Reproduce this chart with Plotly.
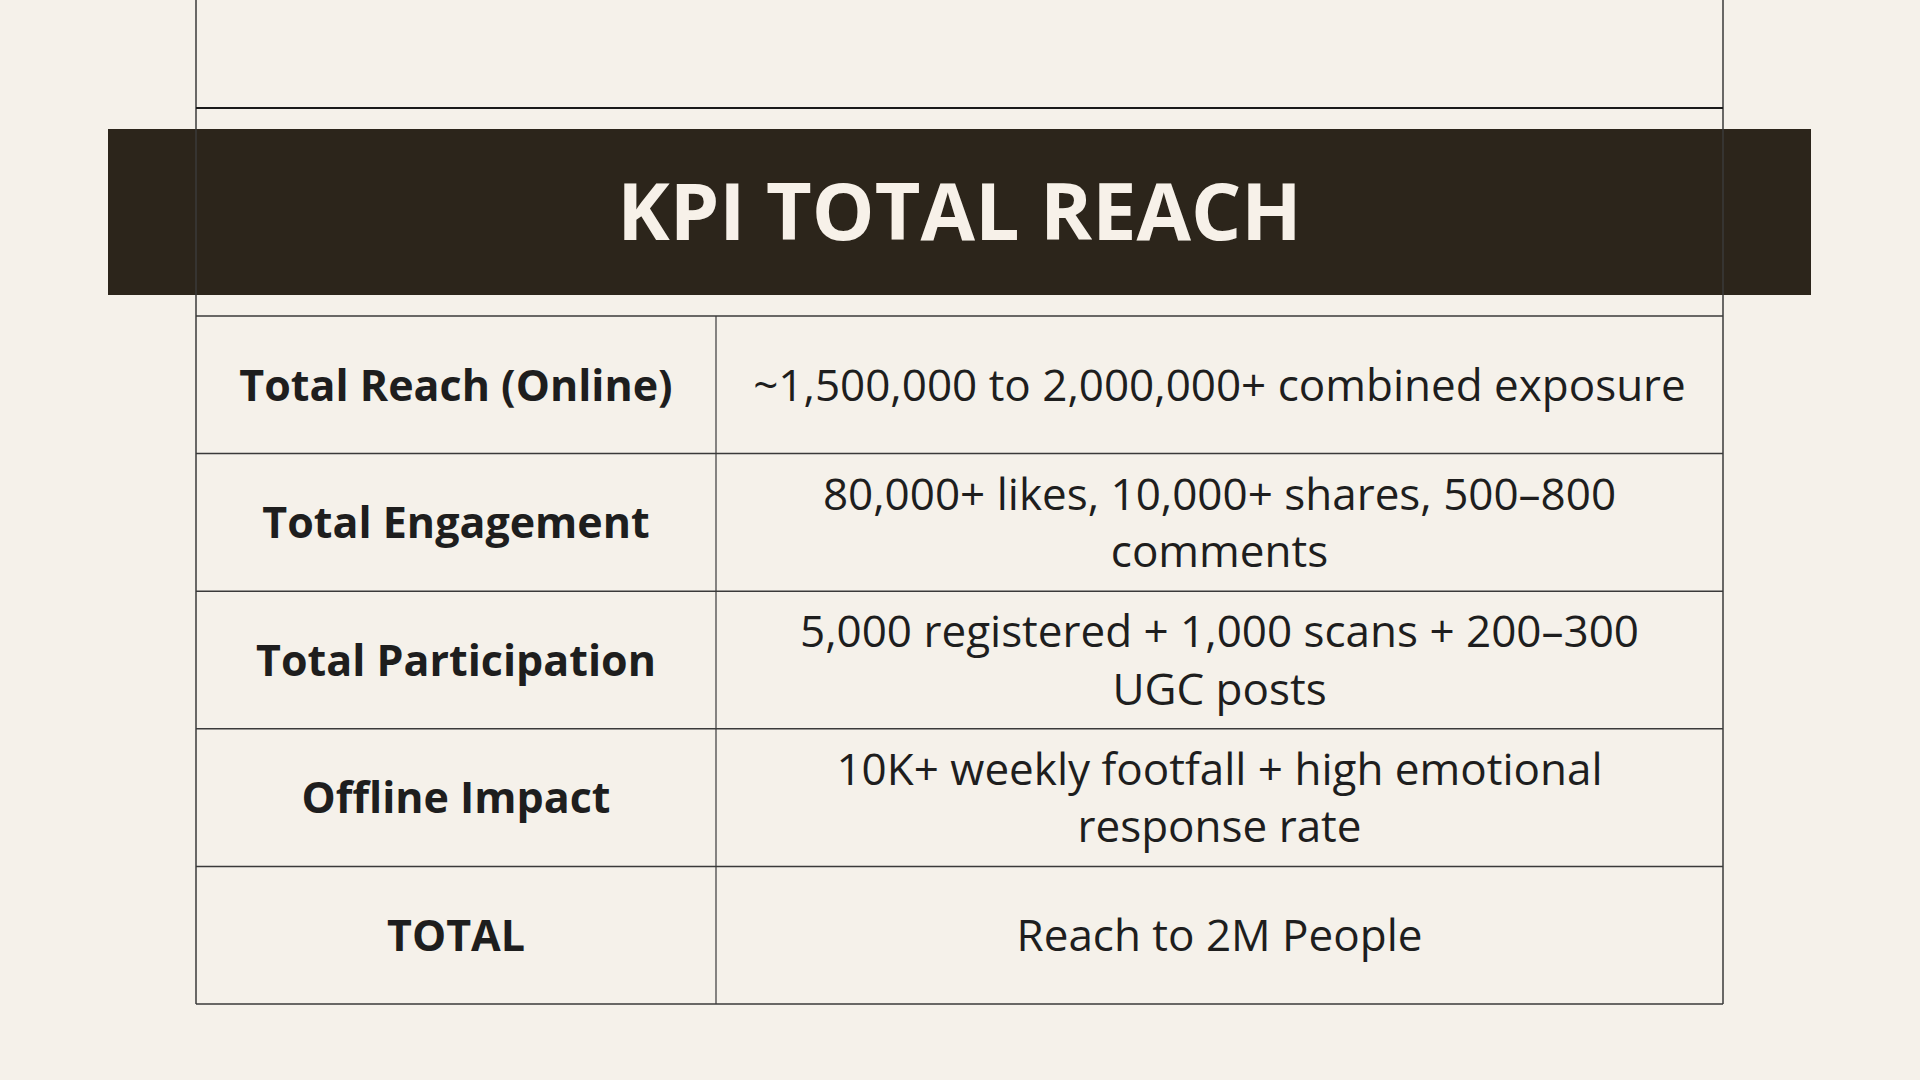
import plotly.graph_objects as go

# KPI table contents
title_text = "KPI TOTAL REACH"
metrics = [
    "Total Reach (Online)",
    "Total Engagement",
    "Total Participation",
    "Offline Impact",
    "TOTAL",
]
values = [
    "~1,500,000 to 2,000,000+ combined exposure",
    "80,000+ likes, 10,000+ shares, 500–800\ncomments",
    "5,000 registered + 1,000 scans + 200–300\nUGC posts",
    "10K+ weekly footfall + high emotional\nresponse rate",
    "Reach to 2M People",
]

# colours
BG = "#F5F1EA"
BANNER = "#2C251B"
INK = "#1E1E1E"
LINE = "#3A3A3A"

# layout geometry (pixels)
W, H = 1920, 1080
x_left, x_mid, x_right = 196, 716, 1723
frame_top = 108
body_top = 316
row_h = 137.6
banner = dict(x0=108, x1=1811, y0=129, y1=295)
text_nudge = 5  # Open Sans sits a little high compared with the original face

fig = go.Figure()

n = len(metrics)
row_edges = [body_top + i * row_h for i in range(n + 1)]
row_centers = [body_top + (i + 0.5) * row_h + text_nudge for i in range(n)]

shapes = []
# banner behind everything
shapes.append(dict(type="rect", xref="x", yref="y", layer="below",
                   x0=banner["x0"], x1=banner["x1"], y0=banner["y0"], y1=banner["y1"],
                   fillcolor=BANNER, line=dict(width=0)))
# outer vertical borders run off the top of the page
for xv in (x_left, x_right):
    shapes.append(dict(type="line", xref="x", yref="y", x0=xv, x1=xv, y0=0, y1=row_edges[-1],
                       line=dict(color=LINE, width=1.5)))
# top border of header section
shapes.append(dict(type="line", xref="x", yref="y", x0=x_left, x1=x_right,
                   y0=frame_top, y1=frame_top, line=dict(color="#1A1A1A", width=2)))
# row borders
for yv in row_edges:
    shapes.append(dict(type="line", xref="x", yref="y", x0=x_left, x1=x_right,
                       y0=yv, y1=yv, line=dict(color=LINE, width=1.5)))
# column divider
shapes.append(dict(type="line", xref="x", yref="y", x0=x_mid, x1=x_mid,
                   y0=body_top, y1=row_edges[-1], line=dict(color=LINE, width=1.2)))

# title on the banner
fig.add_trace(go.Scatter(
    x=[(banner["x0"] + banner["x1"]) / 2], y=[(banner["y0"] + banner["y1"]) / 2 + 8],
    mode="text", text=[title_text], textposition="middle center",
    textfont=dict(family="Open Sans", size=79, color="#F7F1E9", weight=700),
    hoverinfo="skip", showlegend=False,
))

# left column: metric names
fig.add_trace(go.Scatter(
    x=[(x_left + x_mid) / 2] * n, y=row_centers,
    mode="text", text=metrics, textposition="middle center",
    textfont=dict(family="Open Sans", size=43, color=INK, weight=700),
    hoverinfo="skip", showlegend=False,
))

# right column: values
fig.add_trace(go.Scatter(
    x=[(x_mid + x_right) / 2] * n, y=row_centers,
    mode="text", text=[v.replace("\n", "<br>") for v in values], textposition="middle center",
    textfont=dict(family="Open Sans", size=44, color=INK),
    hoverinfo="skip", showlegend=False,
))

fig.update_layout(
    width=W, height=H,
    margin=dict(l=0, r=0, t=0, b=0),
    paper_bgcolor=BG, plot_bgcolor=BG,
    shapes=shapes,
    xaxis=dict(range=[0, W], visible=False, fixedrange=True),
    yaxis=dict(range=[H, 0], visible=False, fixedrange=True),
    showlegend=False,
)

# drop the browser's default body margin so the figure fills the window
fig.write_html(
    "out.html",
    config={"displayModeBar": False},
    post_script="document.body.style.margin='0';document.body.style.overflow='hidden';",
)
